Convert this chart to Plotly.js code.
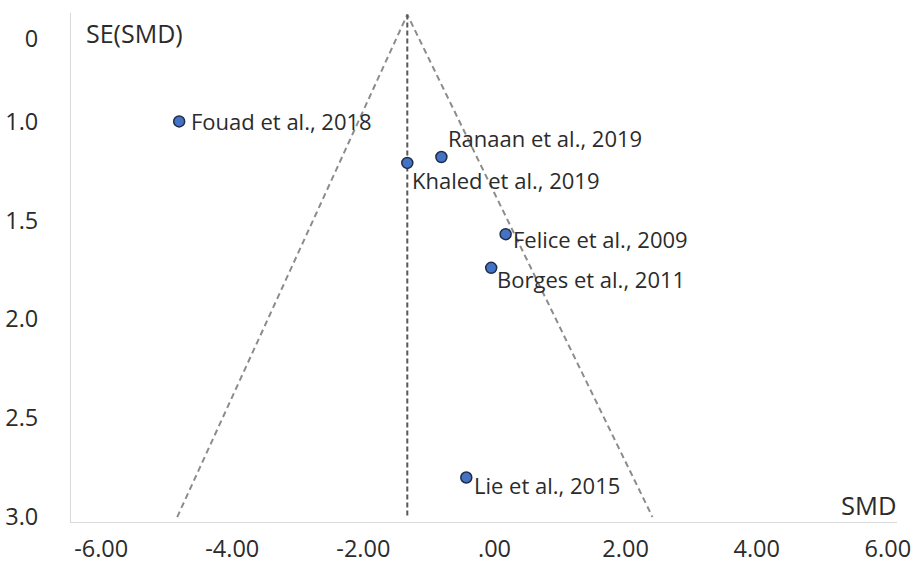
<!DOCTYPE html>
<html>
<head>
<meta charset="utf-8">
<script src="https://cdn.plot.ly/plotly-3.0.1.min.js"></script>
<style>
  html, body { margin: 0; padding: 0; background: #fff; }
  #chart { width: 922px; height: 564px; }
</style>
</head>
<body>
<div id="chart"></div>
<script>
// Funnel plot: standardised mean difference vs its standard error
const studies = ["Fouad et al., 2018", "Ranaan et al., 2019", "Khaled et al., 2019",
                 "Felice et al., 2009", "Borges et al., 2011", "Lie et al., 2015"];
const smd   = [-4.81, -0.81, -1.33, 0.17, -0.05, -0.43];
const seSmd = [1.00, 1.18, 1.21, 1.57, 1.74, 2.80];

// pooled estimate and pseudo-confidence funnel
const pooledSmd     = -1.33;
const funnelApexSe  = 0.46;
const funnelBaseSe  = 3.0;
const funnelLeftSmd  = -4.84;
const funnelRightSmd = 2.41;

const xTickVals = [-6, -4, -2, 0, 2, 4, 6];
const xTickText = ["-6.00", "-4.00", "-2.00", ".00", "2.00", "4.00", "6.00"];
const yTickVals = [0.58, 1.0, 1.5, 2.0, 2.5, 3.0];
const yTickText = ["0", "1.0", "1.5", "2.0", "2.5", "3.0"];

// label placement relative to each marker (pixels)
const labelShift = [
  {dx: 10, dy: 0}, {dx: 5, dy: 19}, {dx: 3, dy: -17},
  {dx: 5, dy: -5}, {dx: 4, dy: -11}, {dx: 6, dy: -8}
];

const textColor = "#2b2b2b";
const fontFamily = "'Open Sans', sans-serif";

const traces = [
  {
    x: [funnelLeftSmd, pooledSmd, funnelRightSmd],
    y: [funnelBaseSe, funnelApexSe, funnelBaseSe],
    mode: "lines",
    line: {color: "#8c8c8c", width: 2, dash: "6px,4px"},
    hoverinfo: "skip"
  },
  {
    x: [pooledSmd, pooledSmd],
    y: [funnelApexSe, funnelBaseSe],
    mode: "lines",
    line: {color: "#595959", width: 2, dash: "5px,3px"},
    hoverinfo: "skip"
  },
  {
    x: smd,
    y: seSmd,
    text: studies,
    mode: "markers",
    marker: {size: 11, color: "#4472C4", line: {color: "#1f2d4a", width: 1.5}}
  }
];

const annotations = studies.map((s, i) => ({
  x: smd[i], y: seSmd[i], xref: "x", yref: "y",
  text: s, showarrow: false, xanchor: "left", yanchor: "middle",
  xshift: labelShift[i].dx, yshift: labelShift[i].dy,
  font: {family: fontFamily, size: 22, color: textColor}
}));

annotations.push({
  xref: "paper", yref: "paper", x: 0, y: 1, xanchor: "left", yanchor: "middle",
  xshift: 13, yshift: -20, text: "SE(SMD)", showarrow: false,
  font: {family: fontFamily, size: 25, color: textColor}
});
annotations.push({
  xref: "paper", yref: "paper", x: 1, y: 0, xanchor: "right", yanchor: "middle",
  xshift: 1, yshift: 17, text: "SMD", showarrow: false,
  font: {family: fontFamily, size: 25.5, color: textColor}
});

const layout = {
  width: 922, height: 564,
  margin: {l: 71, r: 25, t: 13, b: 42},
  paper_bgcolor: "#fff", plot_bgcolor: "#fff",
  showlegend: false,
  font: {family: fontFamily, color: textColor, size: 18},
  xaxis: {
    range: [-6.46, 6.14],
    tickvals: xTickVals, ticktext: xTickText,
    showgrid: false, zeroline: false,
    showline: true, linecolor: "#d9d9d9", linewidth: 1,
    ticks: "outside", ticklen: 6, tickcolor: "rgba(0,0,0,0)",
    tickfont: {family: fontFamily, size: 23.5, color: textColor}
  },
  yaxis: {
    range: [3.025, 0.452],
    tickvals: yTickVals, ticktext: yTickText,
    showgrid: false, zeroline: false,
    showline: true, linecolor: "#d9d9d9", linewidth: 1,
    ticks: "outside", ticklen: 27, tickcolor: "rgba(0,0,0,0)",
    tickfont: {family: fontFamily, size: 23.5, color: textColor}
  },
  annotations: annotations
};

Plotly.newPlot("chart", traces, layout, {staticPlot: true});
</script>
</body>
</html>
